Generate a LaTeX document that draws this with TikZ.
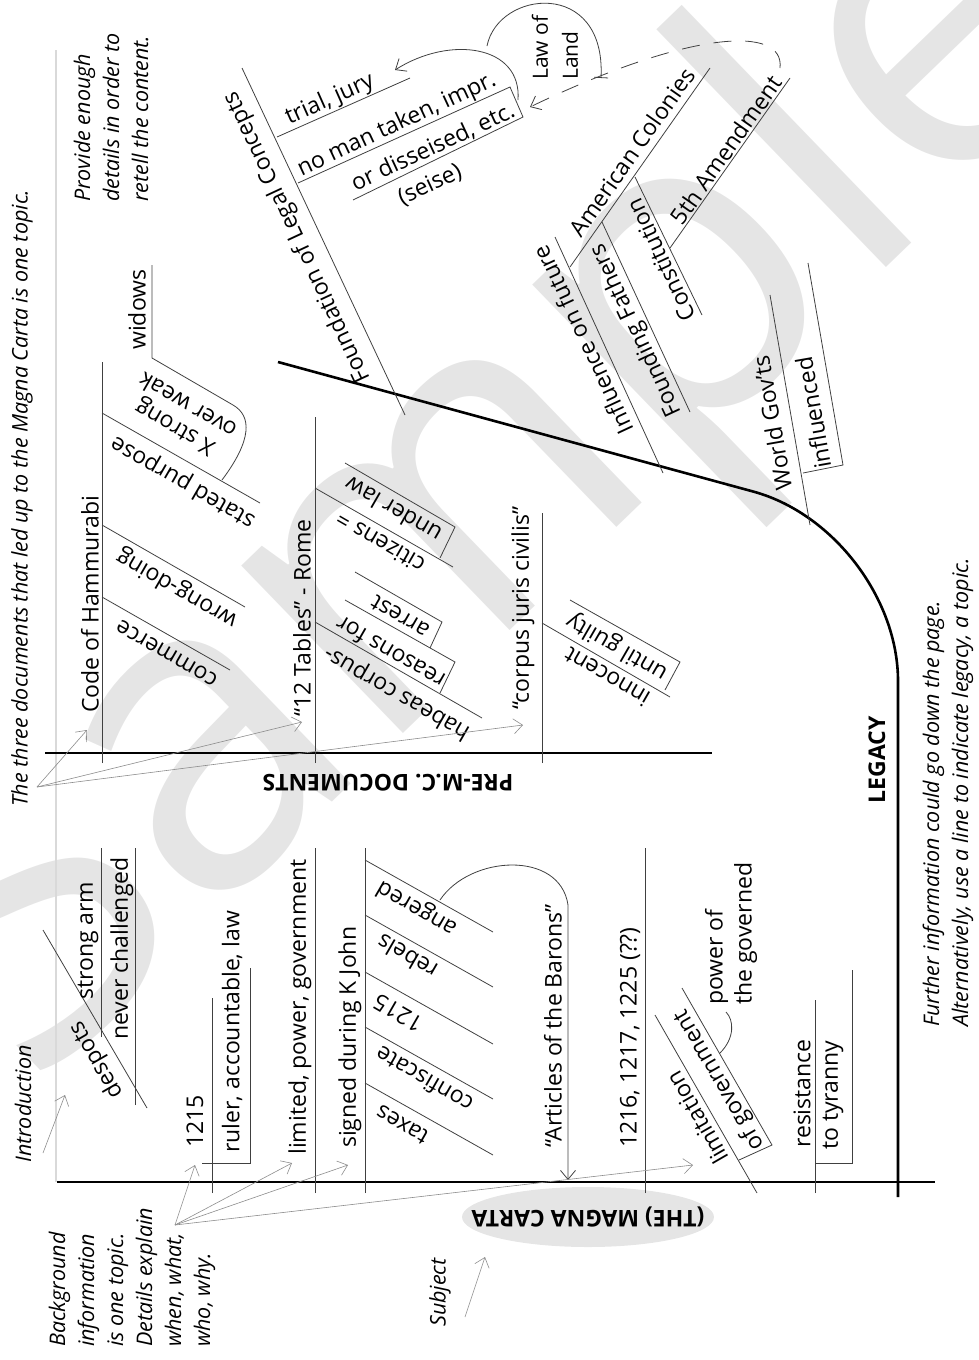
\documentclass[tikz,border=0pt]{standalone}
\usepackage{fontspec}
\setmainfont{Open Sans}
\usepackage{tikz}
\usetikzlibrary{arrows.meta}

\newcommand{\lblfont}{\fontsize{23}{29}\selectfont}
\newcommand{\asidefont}{\fontsize{21.5}{29}\selectfont\itshape}
\newcommand{\headfont}{\fontsize{23}{27}\selectfont\bfseries}
\newcommand{\markfont}{\fontsize{435}{435}\selectfont}

\begin{document}
\begin{tikzpicture}[x=1pt,y=-1pt,
  spine/.style={line width=2.6pt},
  twig/.style={line width=0.8pt,black!75},
  hint/.style={draw=black!45,line width=0.6pt,-{Straight Barb[length=9pt,width=15pt]}},
  lbl/.style={inner sep=0pt,font=\lblfont,align=center},
  uplbl/.style={lbl,rotate=90,anchor=west,align=left},
  aside/.style={inner sep=0pt,font=\asidefont,rotate=90,anchor=west,align=left},
  head/.style={inner sep=0pt,font=\headfont}]

  \useasboundingbox (0,0) rectangle (979,1360);
  \node[inner sep=0pt,font=\markfont,text=black!10,rotate=44,anchor=base west] (mark) at (31,1094) {Sample}; % watermark
  \fill[black!10] (588,1217) ellipse [x radius=126pt,y radius=30pt]; % subject oval
  \draw[black!15,line width=2pt] (56,50) -- (56,1182); % page rule

  % spines
  \draw[spine] (57,1182) -- (935,1182); % Magna Carta
  \draw[spine] (45,753) -- (712,753); % pre-M.C. documents
  \draw[spine,rounded corners=150pt] (278,362) -- (898,531) -- (898,1197); % legacy

  % Magna Carta twigs
  \draw[twig] (43,930) -- (147,1108); % despots
  \draw[twig] (101,1037) -- (101,848); % strong arm
  \draw[twig] (135,1105) -- (135,848); % never challenged
  \draw[twig] (212,1193) -- (212,998); % 1215
  \draw[twig] (202,1163) -- (250,1163) -- (250,968); % ruler box
  \draw[twig] (315,1193) -- (315,848); % limited
  \draw[twig] (365,1193) -- (365,848); % signed
  \foreach \y in {860,915,972,1027,1083}
    \draw[twig] (365,\y) -- (493,\y+72); % details of signing
  \draw[twig,-{Straight Barb[length=9pt,width=15pt]}] (440,900) .. controls (470,855) and (560,850) .. (568,905) -- (568,1180); % angered -> barons
  \draw[twig] (645,1193) -- (645,848); % dates
  \draw[twig] (655,1015) -- (757,1193); % limitation
  \draw[twig] (682,988) -- (772,1145) -- (739,1160); % of government box
  \draw[twig] (720,1053) .. controls (735,1038) and (734,1020) .. (726,1012); % power of
  \draw[twig] (815,1193) -- (815,1000); % resistance
  \draw[twig] (815,1163) -- (852,1163) -- (852,970); % tyranny box

  % pre-M.C. twigs
  \draw[twig] (102,763) -- (102,362); % Hammurabi
  \draw[twig] (102,597) -- (230,670); % commerce
  \draw[twig] (102,525) -- (245,607); % wrong-doing
  \draw[twig] (102,413) -- (260,503); % stated purpose
  \draw[twig] (152,265) -- (152,358) -- (233,405) .. controls (252,416) and (252,440) .. (222,480); % widows, over weak
  \draw[twig] (315,763) -- (315,417); % 12 Tables
  \draw[twig] (315,622) -- (482,718); % habeas
  \draw[twig] (345,600) -- (455,662) -- (440,693); % reasons
  \draw[twig] (355,572) -- (442,622) -- (430,648); % arrest
  \draw[twig] (315,488) -- (453,567); % citizens
  \draw[twig] (345,463) -- (455,527) -- (440,558); % under law
  \draw[twig] (542,763) -- (542,513); % corpus
  \draw[twig] (542,623) -- (670,697); % innocent
  \draw[twig] (570,600) -- (680,662) -- (665,690); % until guilty

  % legacy twigs
  \draw[twig] (242,68) -- (405,415); % foundation
  \draw[twig] (277,137) -- (410,78); % trial
  \draw[twig] (298,183) -- (510,87) -- (523,117) -- (353,200); % no man box
  \draw[twig,-{Straight Barb[length=9pt,width=15pt]}] (518,100) .. controls (522,45) and (450,35) .. (395,70); % back to trial
  \draw[twig,-{Bar[width=14pt]}] (487,46) .. controls (498,-10) and (606,-22) .. (601,78); % law of land
  \draw[twig,dash pattern=on 18pt off 14pt,-{Straight Barb[length=9pt,width=15pt]}] (780,68) .. controls (785,25) and (690,30) .. (530,107); % 5th amendment link
  \draw[twig] (555,237) -- (663,473); % influence
  \draw[twig] (570,267) -- (710,68); % colonies
  \draw[twig] (602,222) -- (690,412); % founding fathers
  \draw[twig] (635,177) -- (702,315); % constitution
  \draw[twig] (670,248) -- (790,78); % 5th amendment
  \draw[twig] (810,525) -- (770,295); % world gov'ts
  \draw[twig] (808,263) -- (843,465) -- (803,473); % influenced box

  % labels, Magna Carta
  \node[lbl,rotate=120] (despots) at (97,1060) {despots};
  \node[uplbl] (strong) at (88,1000) {strong arm};
  \node[uplbl] (never) at (122,1040) {never challenged};
  \node[uplbl] (y1215) at (195,1148) {1215};
  \node[uplbl] (ruler) at (232,1153) {ruler, accountable, law};
  \node[uplbl] (limited) at (300,1155) {limited, power, government};
  \node[uplbl] (signed) at (350,1148) {signed during K John};
  \node[lbl,rotate=150] (angered) at (417,908) {angered};
  \node[lbl,rotate=150] (rebels) at (407,957) {rebels};
  \node[lbl,rotate=150] (year) at (398,1013) {1215};
  \node[lbl,rotate=150] (confiscate) at (424,1080) {confiscate};
  \node[lbl,rotate=150] (taxes) at (402,1125) {taxes};
  \node[uplbl] (barons) at (553,1148) {“Articles of the Barons”};
  \node[uplbl] (dates) at (630,1148) {1216, 1217, 1225 (??)};
  \node[lbl,rotate=120] (limitation) at (697,1118) {limitation};
  \node[lbl,rotate=120] (ofgov) at (720,1080) {of government};
  \node[uplbl] (governed) at (731,1005) {power of\\the governed};
  \node[uplbl] (resist) at (802,1148) {resistance};
  \node[uplbl] (tyranny) at (833,1150) {to tyranny};

  % labels, pre-M.C.
  \node[uplbl] (hammurabi) at (90,713) {Code of Hammurabi};
  \node[lbl,rotate=150] (commerce) at (167,653) {commerce};
  \node[lbl,rotate=150] (wrong) at (177,588) {wrong-doing};
  \node[lbl,rotate=150] (purpose) at (183,482) {stated purpose};
  \node[lbl,rotate=150,font=\fontsize{23}{26}\selectfont] (xstrong) at (181,417) {X strong\\over weak};
  \node[uplbl] (widows) at (137,350) {widows};
  \node[uplbl] (tables) at (302,717) {“12 Tables” - Rome};
  \node[lbl,rotate=150] (habeas) at (397,693) {habeas corpus-};
  \node[lbl,rotate=150] (reasons) at (390,653) {reasons for};
  \node[lbl,rotate=150] (arrest) at (400,617) {arrest};
  \node[lbl,rotate=150] (citizens) at (380,543) {citizens =};
  \node[lbl,rotate=150] (underlaw) at (393,510) {under law};
  \node[uplbl] (corpus) at (523,710) {“corpus juris civilis”};
  \node[lbl,rotate=150] (innocent) at (607,677) {innocent};
  \node[lbl,rotate=150] (guilty) at (617,647) {until guilty};

  % labels, legacy
  \node[lbl,rotate=115] (foundation) at (298,237) {Foundation of Legal Concepts};
  \node[lbl,rotate=24] (trial) at (330,100) {trial, jury};
  \node[lbl,rotate=25] (noman) at (397,125) {no man taken, impr.};
  \node[lbl,rotate=25] (disseised) at (433,147) {or disseised, etc.};
  \node[lbl,rotate=25] (seise) at (430,185) {(seise)};
  \node[uplbl,font=\fontsize{21}{30}\selectfont] (lawland) at (555,80) {Law of\\Land};
  \node[lbl,rotate=115] (influence) at (583,340) {Influence on future};
  \node[lbl,rotate=55] (colonies) at (632,152) {American Colonies};
  \node[lbl,rotate=115] (founding) at (637,330) {Founding Fathers};
  \node[lbl,rotate=115] (constitution) at (661,260) {Constitution};
  \node[lbl,rotate=55] (amendment) at (726,150) {5th Amendment};
  \node[lbl,rotate=100] (world) at (772,423) {World Gov’ts};
  \node[lbl,rotate=100] (influenced) at (813,413) {influenced};

  % topic heads
  \node[head,rotate=180] (pre) at (388,783) {PRE-M.C. DOCUMENTS};
  \node[head,rotate=180] (magna) at (588,1217) {(THE) MAGNA CARTA};
  \node[head,rotate=90] (legacy) at (877,760) {LEGACY};

  % side notes
  \node[aside] (three) at (22,807) {The three documents that led up to the Magna Carta is one topic.};
  \node[aside] (provide) at (111,202) {Provide enough\\details in order to\\retell the content.};
  \node[aside] (intro) at (23,1163) {Introduction};
  \node[aside] (background) at (132,1347) {Background\\information\\is one topic.\\Details explain\\when, what,\\who, why.};
  \node[aside] (subject) at (440,1327) {Subject};
  \node[aside] (further) at (948,1027) {Further information could go down the page.\\Alternatively, use a line to indicate legacy, a topic.};

  % hint arrows
  \coordinate (threefrom) at (37,787);
  \coordinate (tohammurabi) at (87,730);
  \coordinate (totables) at (302,722);
  \coordinate (tocorpus) at (523,725);
  \draw[hint] (threefrom) -- (tohammurabi);
  \draw[hint] (threefrom) -- (totables);
  \draw[hint] (threefrom) -- (tocorpus);
  \coordinate (introfrom) at (43,1153);
  \coordinate (tointro) at (65,1095);
  \draw[hint] (introfrom) -- (tointro);
  \coordinate (bgfrom) at (175,1225);
  \coordinate (to1215) at (195,1165);
  \coordinate (tolimited) at (292,1163);
  \coordinate (tosigned) at (348,1165);
  \coordinate (todates) at (693,1165);
  \draw[hint] (bgfrom) -- (to1215);
  \draw[hint] (bgfrom) -- (tolimited);
  \draw[hint] (bgfrom) -- (tosigned);
  \draw[hint] (bgfrom) -- (todates);
  \coordinate (subjfrom) at (465,1317);
  \coordinate (tomagna) at (485,1257);
  \draw[hint] (subjfrom) -- (tomagna);
\end{tikzpicture}
\end{document}
